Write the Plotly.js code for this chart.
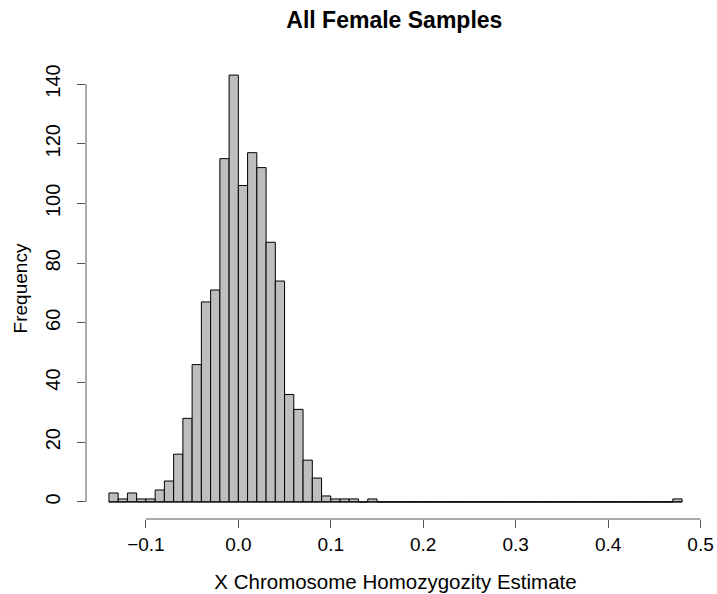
<!DOCTYPE html>
<html>
<head>
<meta charset="utf-8">
<script src="https://cdn.plot.ly/plotly-3.0.1.min.js"></script>
<style>html,body{margin:0;padding:0;background:#fff;}#chart{width:717px;height:594px;}</style>
</head>
<body>
<div id="chart"></div>
<script>
// Histogram bins (lower edges) and counts
const binWidth = 0.01;
const binLower = [-0.14,-0.13,-0.12,-0.11,-0.10,-0.09,-0.08,-0.07,-0.06,-0.05,-0.04,-0.03,-0.02,-0.01,
  0.00,0.01,0.02,0.03,0.04,0.05,0.06,0.07,0.08,0.09,0.10,0.11,0.12,0.13,0.14,0.15,0.16,0.17,0.18,0.19,
  0.20,0.21,0.22,0.23,0.24,0.25,0.26,0.27,0.28,0.29,0.30,0.31,0.32,0.33,0.34,0.35,0.36,0.37,0.38,0.39,
  0.40,0.41,0.42,0.43,0.44,0.45,0.46,0.47];
const counts = [3,1,3,1,1,4,7,16,28,46,67,71,115,143,
  106,117,112,87,74,36,31,14,8,2,1,1,1,0,1,0,0,0,0,0,
  0,0,0,0,0,0,0,0,0,0,0,0,0,0,0,0,0,0,0,0,
  0,0,0,0,0,0,0,1];
const xTicks = [-0.1,0.0,0.1,0.2,0.3,0.4,0.5];
const xTickText = ["\u22120.1","0.0","0.1","0.2","0.3","0.4","0.5"];
const yTicks = [0,20,40,60,80,100,120,140];

const titleText = "All Female Samples";
const xTitle = "X Chromosome Homozygozity Estimate";
const yTitle = "Frequency";

// R-style 4% range extension
const xMin = binLower[0], xMax = binLower[binLower.length-1] + binWidth;
const yMax = Math.max(...counts);
const xPad = (xMax - xMin) * 0.04, yPad = yMax * 0.04;

const FONT = '"Liberation Sans", Arial, Helvetica, sans-serif';

const bars = {
  type: 'bar',
  x: binLower,
  y: counts,
  offset: 0,
  width: binWidth,
  marker: {color: '#bebebe', line: {color: '#000000', width: 1}},
  hoverinfo: 'x+y',
  showlegend: false
};
const baseline = {
  type: 'scatter', mode: 'lines',
  x: [xMin, xMax], y: [0, 0],
  line: {color: '#000000', width: 1},
  hoverinfo: 'skip', showlegend: false
};

const layout = {
  width: 717, height: 594,
  margin: {l: 86, r: 12, t: 58, b: 75, pad: 0},
  paper_bgcolor: '#ffffff', plot_bgcolor: '#ffffff',
  font: {family: FONT, color: '#000000'},
  title: {text: '<b>' + titleText + '</b>', font: {size: 23, family: FONT, color: '#000'},
          x: 0.55, xanchor: 'center', y: 0.967, yanchor: 'middle'},
  xaxis: {
    range: [xMin - xPad, xMax + xPad],
    tickvals: xTicks, ticktext: xTickText,
    ticks: 'outside', ticklen: 8, tickwidth: 1, tickcolor: '#555',
    tickfont: {size: 19, family: FONT},
    showgrid: false, zeroline: false, showline: false,
    title: {text: xTitle, font: {size: 20.5, family: FONT}, standoff: 20},
    automargin: false
  },
  yaxis: {
    range: [-yPad, yMax + yPad],
    tickvals: yTicks,
    tickangle: -90,
    ticks: 'outside', ticklen: 8, tickwidth: 1, tickcolor: '#555',
    tickfont: {size: 20, family: FONT},
    ticklabelstandoff: 9,
    showgrid: false, zeroline: false, showline: false,
    title: {text: yTitle, font: {size: 19, family: FONT}, standoff: 9},
    automargin: false
  },
  shapes: [
    {type: 'line', xref: 'x', yref: 'paper', x0: xTicks[0], x1: xTicks[xTicks.length-1], y0: 0, y1: 0,
     line: {color: '#555', width: 1}},
    {type: 'line', xref: 'paper', yref: 'y', x0: 0, x1: 0, y0: yTicks[0], y1: yTicks[yTicks.length-1],
     line: {color: '#555', width: 1}}
  ],
  bargap: 0
};

Plotly.newPlot('chart', [bars, baseline], layout, {displayModeBar: false, staticPlot: true});
</script>
</body>
</html>
